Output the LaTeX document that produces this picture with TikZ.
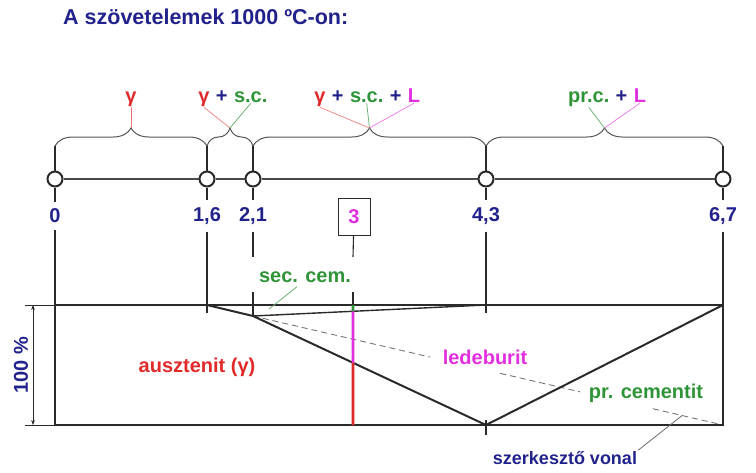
\documentclass[tikz,border=0pt]{standalone}
\usepackage{fontspec}
\setmainfont{Liberation Sans}
\usetikzlibrary{arrows.meta,positioning,calc,decorations.pathreplacing}
\definecolor{Ink}{HTML}{22228C}
\definecolor{Blood}{HTML}{E02A2A}
\definecolor{Leaf}{HTML}{2F9438}
\definecolor{Orchid}{HTML}{E22FE0}
\definecolor{Rule}{HTML}{2A2A2A}
\tikzset{
  lbl/.style={font=\bfseries\fontsize{20}{22}\selectfont, inner sep=1pt},
  heading/.style={lbl, text=Ink, font=\bfseries\fontsize{21.5}{24}\selectfont},
  num/.style={lbl, text=Ink, inner sep=7pt},
  knot/.style={circle, draw=Rule, fill=white, line width=2pt, minimum size=15pt, inner sep=0pt},
  axis/.style={draw=Rule!85, line width=1.8pt},
  tick/.style={draw=Rule, line width=1.1pt},
  bracket/.style={draw=Rule!80, line width=1pt, decorate, decoration={brace, amplitude=18pt}},
  frame/.style={draw=Rule, line width=2.2pt},
  phase/.style={draw=Rule, line width=2pt},
  guide/.style={draw=Rule!65, line width=0.9pt, dash pattern=on 6pt off 4pt},
  lead/.style={line width=0.8pt},
  bar/.style={line width=2.6pt},
  dim/.style={draw=Rule, line width=0.7pt, {Stealth[length=5pt]}-{Stealth[length=5pt]}}
}
\begin{document}
\begin{tikzpicture}[x=1pt, y=-1pt]
\useasboundingbox (0,0) rectangle (756,472);
\node[heading, anchor=west] (title) at (62,17) {A szövetelemek 1000 ºC-on:};

% concentration axis
\node[knot] (c0) at (55,179) {};
\node[knot] (c16) at (207,179) {};
\node[knot] (c21) at (253,179) {};
\node[knot] (c43) at (486,179) {};
\node[knot] (c67) at (723,179) {};
\draw[axis] (c0) -- (c16) (c16) -- (c21) (c21) -- (c43) (c43) -- (c67);

\node[num] (n0) at (55,216) {0};
\node[num] (n16) at (207,216) {1,6};
\node[num] (n21) at (253,216) {2,1};
\node[num] (n43) at (486,216) {4,3};
\node[num] (n67) at (723,216) {6,7};
\node[lbl, draw=Rule, line width=0.9pt, text=Orchid, minimum width=32pt, minimum height=37pt] (n3) at (354,217) {3};

% braces
\coordinate (b0) at (55,146);
\coordinate (b16) at (207,146);
\coordinate (b21) at (253,146);
\coordinate (b43) at (486,146);
\coordinate (b67) at (723,146);
\draw[bracket] (b0) -- (b16);
\draw[bracket] (b16) -- (b21);
\draw[bracket] (b21) -- (b43);
\draw[bracket] (b43) -- (b67);
\coordinate (t1) at ($(b0)!.5!(b16)+(0,-18)$);
\coordinate (t2) at ($(b16)!.5!(b21)+(0,-18)$);
\coordinate (t3) at ($(b21)!.5!(b43)+(0,-18)$);
\coordinate (t4) at ($(b43)!.5!(b67)+(0,-18)$);

\foreach \n in {0,16,21,43,67} \draw[tick] (b\n) -- (c\n) (c\n) -- (n\n);

% field labels
\node[lbl, text=Blood, anchor=base] (g1) at (131,102) {γ};
\node[lbl, text=Blood, anchor=base] (g2) at (204,102) {γ};
\node[lbl, text=Ink, base right=4pt of g2] (p2) {+};
\node[lbl, text=Leaf, base right=4pt of p2] (s2) {s.c.};
\node[lbl, text=Blood, anchor=base] (g3) at (320,102) {γ};
\node[lbl, text=Ink, base right=4pt of g3] (p3) {+};
\node[lbl, text=Leaf, base right=4pt of p3] (s3) {s.c.};
\node[lbl, text=Ink, base right=4pt of s3] (q3) {+};
\node[lbl, text=Orchid, base right=4pt of q3] (l3) {L};
\node[lbl, text=Leaf, anchor=base west] (r4) at (567,102) {pr.c.};
\node[lbl, text=Ink, base right=4pt of r4] (p4) {+};
\node[lbl, text=Orchid, base right=4pt of p4] (l4) {L};
\draw[lead, Blood!65] (g1.south) -- (t1);
\draw[lead, Blood!55] (g2.south) -- (t2);
\draw[lead, Leaf!70] (s2.south) -- (t2);
\draw[lead, Blood!55] (g3.south) -- (t3);
\draw[lead, Leaf!70] (s3.south) -- (t3);
\draw[lead, Orchid!60] (l3.south) -- (t3);
\draw[lead, Leaf!70] (r4.south) -- (t4);
\draw[lead, Orchid!60] (l4.south) -- (t4);

% lever diagram
\coordinate (f0) at (55,305);
\coordinate (f0b) at (55,425);
\coordinate (k16) at (207,305);
\coordinate (k21) at (253,316);
\coordinate (s43) at (486,305);
\coordinate (k43) at (486,425);
\coordinate (k67) at (723,305);
\coordinate (k67b) at (723,425);
\draw[tick] (n0) -- (f0);
\draw[tick] (n16) -- (207,313);
\draw[tick] (n21) -- (253,257);
\draw[tick] (n3) -- (353,257);
\draw[tick] (n43) -- (486,313);
\draw[tick] (n67) -- (k67);
\draw[tick] (253,292) -- (k21);
\draw[tick] (353,292) -- (353,305);
\draw[tick] (486,420) -- (486,435);

\draw[guide] (k21) -- ($(k21)!.377!(k67b)$);
\draw[guide] ($(k21)!.526!(k67b)$) -- ($(k21)!.696!(k67b)$);
\draw[guide] ($(k21)!.851!(k67b)$) -- (k67b);
\coordinate (gp) at ($(k21)!.913!(k67b)$);

\draw[phase] (k16) -- (k21) -- (k43) -- (k67);
\draw[phase, line width=1.4pt] (k21) -- (s43);
\draw[frame] (f0) rectangle (k67b);
\draw[tick, line width=0.7pt] (25,305) -- (f0) (25,425) -- (f0b);
\coordinate (d1) at (33,305);
\coordinate (d2) at (33,425);
\draw[dim] (d1) -- (d2);
\node[lbl, text=Ink, rotate=90] (pct) at (21,365) {100 \%};

% the 3 % alloy
\coordinate (v3top) at (353,305);
\coordinate (v3bot) at (353,425);
\coordinate (v3sec) at (intersection of k21--s43 and v3top--v3bot);
\coordinate (v3led) at (intersection of k21--k43 and v3top--v3bot);
\draw[bar, Leaf] (v3top) -- (v3sec);
\draw[bar, Orchid] (v3sec) -- (v3led);
\draw[bar, Blood] (v3led) -- (v3bot);

\node[lbl, text=Blood] (aus) at (197,367) {ausztenit (γ)};
\node[lbl, text=Orchid] (led) at (485,357) {ledeburit};
\node[lbl, text=Leaf] (prc) at (646,393) {pr. cementit};
\node[lbl, text=Leaf] (sec) at (305,277) {sec. cem.};
\coordinate (secpt) at (269,309);
\draw[lead, Leaf!70] ($(sec.south)+(-8,3)$) -- (secpt);
\node[lbl, text=Ink, font=\bfseries\fontsize{18}{20}\selectfont] (szv) at (565,458) {szerkesztő vonal};
\draw[lead, Rule!70] (szv.north east) -- (gp);
\end{tikzpicture}
\end{document}
